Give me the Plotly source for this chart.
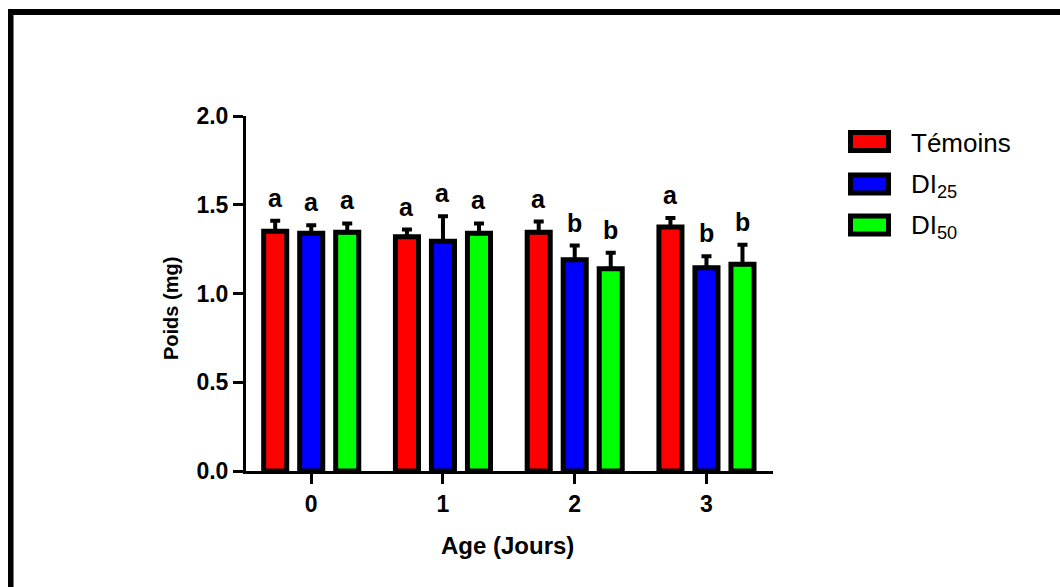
import plotly.graph_objects as go

# ---- data ----
ages = [0, 1, 2, 3]
age_labels = ["0", "1", "2", "3"]
series_names = ["Témoins", "DI<sub>25</sub>", "DI<sub>50</sub>"]
temoins_mean = [1.35, 1.32, 1.345, 1.375]
temoins_sd = [0.06, 0.04, 0.06, 0.05]
di25_mean = [1.34, 1.295, 1.19, 1.145]
di25_sd = [0.045, 0.14, 0.08, 0.065]
di50_mean = [1.345, 1.34, 1.14, 1.165]
di50_sd = [0.05, 0.055, 0.09, 0.11]
temoins_letters = ["a", "a", "a", "a"]
di25_letters = ["a", "a", "b", "b"]
di50_letters = ["a", "a", "b", "b"]
yticks = [0.0, 0.5, 1.0, 1.5, 2.0]

means = [temoins_mean, di25_mean, di50_mean]
sds = [temoins_sd, di25_sd, di50_sd]
letters = [temoins_letters, di25_letters, di50_letters]
colors = ["#FF0000", "#0000FF", "#00FF00"]

W, H = 1060, 587
ML, MR, MT, MB = 246, 287, 116, 116
BARGAP, BARGROUPGAP = 0.18, 0.36
FONT = "Liberation Sans, Arial, sans-serif"

def px_x(p):
    return (p - ML) / (W - ML - MR)

def px_y(p):
    return (H - MB - p) / (H - MT - MB)

fig = go.Figure()
for k in range(3):
    fig.add_trace(go.Bar(
        x=ages, y=means[k], name=series_names[k],
        marker=dict(color=colors[k], line=dict(color="black", width=5)),
        error_y=dict(type="data", array=sds[k], arrayminus=[0] * len(ages),
                     symmetric=False, color="black", thickness=4, width=5),
        showlegend=False,
    ))

# significance letters
slot = (1 - BARGAP) / 3
annotations = []
for k in range(3):
    for i, a in enumerate(ages):
        annotations.append(dict(
            x=a + (k - 1) * slot, y=means[k][i] + sds[k][i], xref="x", yref="y",
            text=letters[k][i], showarrow=False, yanchor="bottom", yshift=7,
            font=dict(family=FONT, size=25, color="black", weight="bold"),
        ))

# axis titles
annotations.append(dict(x=px_x(171), y=px_y(309), xref="paper", yref="paper",
                        text="Poids (mg)", showarrow=False, textangle=-90,
                        xanchor="center", yanchor="middle",
                        font=dict(family=FONT, size=20, color="black", weight="bold")))
annotations.append(dict(x=px_x(507), y=px_y(545), xref="paper", yref="paper",
                        text="Age (Jours)", showarrow=False,
                        xanchor="center", yanchor="middle",
                        font=dict(family=FONT, size=24, color="black", weight="bold")))

# legend (drawn)
shapes = []
leg_y = [141.5, 184, 225]
for k in range(3):
    shapes.append(dict(type="rect", xref="paper", yref="paper",
                       x0=px_x(850.5), x1=px_x(888.5),
                       y0=px_y(leg_y[k] - 9), y1=px_y(leg_y[k] + 9),
                       fillcolor=colors[k], line=dict(color="black", width=5)))
    annotations.append(dict(x=px_x(909), y=px_y(leg_y[k] + 1), xref="paper", yref="paper",
                            text=series_names[k], showarrow=False,
                            xanchor="left", yanchor="middle",
                            font=dict(family=FONT, size=26, color="black")))

# frame lines (top and left)
shapes.append(dict(type="rect", xref="paper", yref="paper", layer="above",
                   x0=px_x(8), x1=px_x(1062), y0=px_y(9), y1=px_y(15),
                   fillcolor="black", line=dict(width=0)))
shapes.append(dict(type="rect", xref="paper", yref="paper", layer="above",
                   x0=px_x(8), x1=px_x(13.5), y0=px_y(9), y1=px_y(590),
                   fillcolor="black", line=dict(width=0)))

fig.update_layout(
    width=W, height=H,
    margin=dict(l=ML, r=MR, t=MT, b=MB, autoexpand=False),
    paper_bgcolor="white", plot_bgcolor="white",
    barmode="group", bargap=BARGAP, bargroupgap=BARGROUPGAP,
    annotations=annotations, shapes=shapes,
    font=dict(family=FONT, color="black"),
)
fig.update_xaxes(
    range=[-0.495, 3.505], tickvals=ages, ticktext=age_labels,
    showline=True, linecolor="black", linewidth=3,
    ticks="outside", ticklen=10, tickwidth=3, tickcolor="black",
    showgrid=False, zeroline=False,
    tickfont=dict(family=FONT, size=23, color="black", weight="bold"),
)
fig.update_yaxes(
    range=[0, 2], tickvals=yticks, tickformat=".1f",
    showline=True, linecolor="black", linewidth=3,
    ticks="outside", ticklen=10, tickwidth=3, tickcolor="black",
    showgrid=False, zeroline=False,
    tickfont=dict(family=FONT, size=23, color="black", weight="bold"),
)

fig.write_html("out.html")
